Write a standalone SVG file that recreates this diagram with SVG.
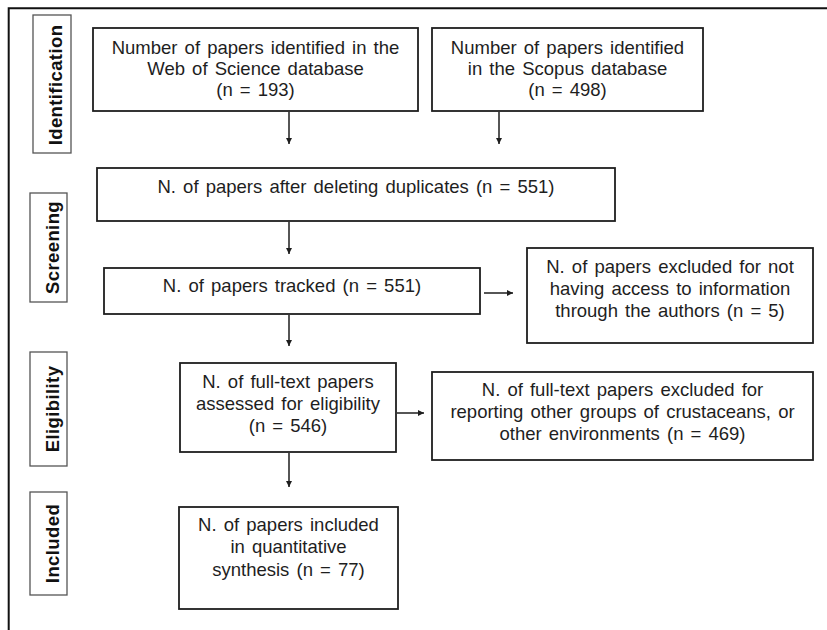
<svg xmlns="http://www.w3.org/2000/svg" width="827" height="630" viewBox="0 0 827 630">
<defs>
<style>
.box{fill:#fff;stroke:#1e1e1e;stroke-width:1.8}
.lab{fill:#fff;stroke:#555;stroke-width:1.3}
.t{font-family:"Liberation Sans",Arial,sans-serif;font-size:18.5px;fill:#1e1e1e;text-anchor:middle;word-spacing:2px}
.lt{font-family:"Liberation Sans",Arial,sans-serif;font-size:18.5px;font-weight:bold;fill:#111;text-anchor:middle;letter-spacing:0.4px}
.c{stroke:#1e1e1e;stroke-width:1.5;fill:none;marker-end:url(#ah)}
</style>
<marker id="ah" viewBox="0 0 10 10" refX="10" refY="5" markerWidth="6" markerHeight="6" markerUnits="userSpaceOnUse" orient="auto">
<path d="M0,0 L10,5 L0,10 z" fill="#1e1e1e"/>
</marker>
</defs>
<rect width="827" height="630" fill="#fff"/>
<path d="M8.7,630 V8.3 H827" fill="none" stroke="#111" stroke-width="2"/>

<g id="label-identification">
<rect class="lab" x="33" y="15" width="38" height="138"/>
<text class="lt" transform="translate(62,85) rotate(-90)">Identification</text>
</g>
<g id="label-screening">
<rect class="lab" x="30" y="193" width="37" height="109"/>
<text class="lt" transform="translate(59,247.5) rotate(-90)">Screening</text>
</g>
<g id="label-eligibility">
<rect class="lab" x="30" y="352" width="37" height="114"/>
<text class="lt" transform="translate(59,409) rotate(-90)">Eligibility</text>
</g>
<g id="label-included">
<rect class="lab" x="30" y="492" width="37" height="103"/>
<text class="lt" transform="translate(59,543.5) rotate(-90)">Included</text>
</g>

<g id="connectors">
<line class="c" x1="289" y1="112" x2="289" y2="144"/>
<line class="c" x1="499" y1="112" x2="499" y2="144"/>
<line class="c" x1="289" y1="222" x2="289" y2="254"/>
<line class="c" x1="484" y1="293" x2="513" y2="293"/>
<line class="c" x1="289" y1="315" x2="289" y2="346"/>
<line class="c" x1="397" y1="413" x2="424" y2="413"/>
<line class="c" x1="289" y1="453" x2="289" y2="487"/>
</g>

<g id="wos">
<rect class="box" x="93" y="28" width="325" height="83"/>
<text class="t" x="255.5" y="54">Number of papers identified in the</text>
<text class="t" x="255.5" y="75">Web of Science database</text>
<text class="t" x="255.5" y="96">(n = 193)</text>
</g>
<g id="scopus">
<rect class="box" x="432" y="28" width="271" height="83"/>
<text class="t" x="567.5" y="54">Number of papers identified</text>
<text class="t" x="567.5" y="75">in the Scopus database</text>
<text class="t" x="567.5" y="96">(n = 498)</text>
</g>
<g id="duplicates">
<rect class="box" x="97" y="168" width="518" height="53"/>
<text class="t" x="356" y="192.5">N. of papers after deleting duplicates (n = 551)</text>
</g>
<g id="tracked">
<rect class="box" x="104" y="268" width="376" height="46"/>
<text class="t" x="292" y="292">N. of papers tracked (n = 551)</text>
</g>
<g id="excluded-access">
<rect class="box" x="527" y="248" width="286" height="95"/>
<text class="t" x="670" y="272.5">N. of papers excluded for not</text>
<text class="t" x="670" y="294.5">having access to information</text>
<text class="t" x="670" y="316.5">through the authors (n = 5)</text>
</g>
<g id="fulltext">
<rect class="box" x="180" y="363" width="216" height="89"/>
<text class="t" x="288" y="387.5">N. of full-text papers</text>
<text class="t" x="288" y="409.5">assessed for eligibility</text>
<text class="t" x="288" y="431.5">(n = 546)</text>
</g>
<g id="excluded-groups">
<rect class="box" x="432" y="372" width="381" height="88"/>
<text class="t" x="622.5" y="395.5">N. of full-text papers excluded for</text>
<text class="t" x="622.5" y="417.5">reporting other groups of crustaceans, or</text>
<text class="t" x="622.5" y="439.5">other environments (n = 469)</text>
</g>
<g id="included">
<rect class="box" x="179" y="507" width="219" height="102"/>
<text class="t" x="288.5" y="530.5">N. of papers included</text>
<text class="t" x="288.5" y="553">in quantitative</text>
<text class="t" x="288.5" y="576">synthesis (n = 77)</text>
</g>
</svg>
